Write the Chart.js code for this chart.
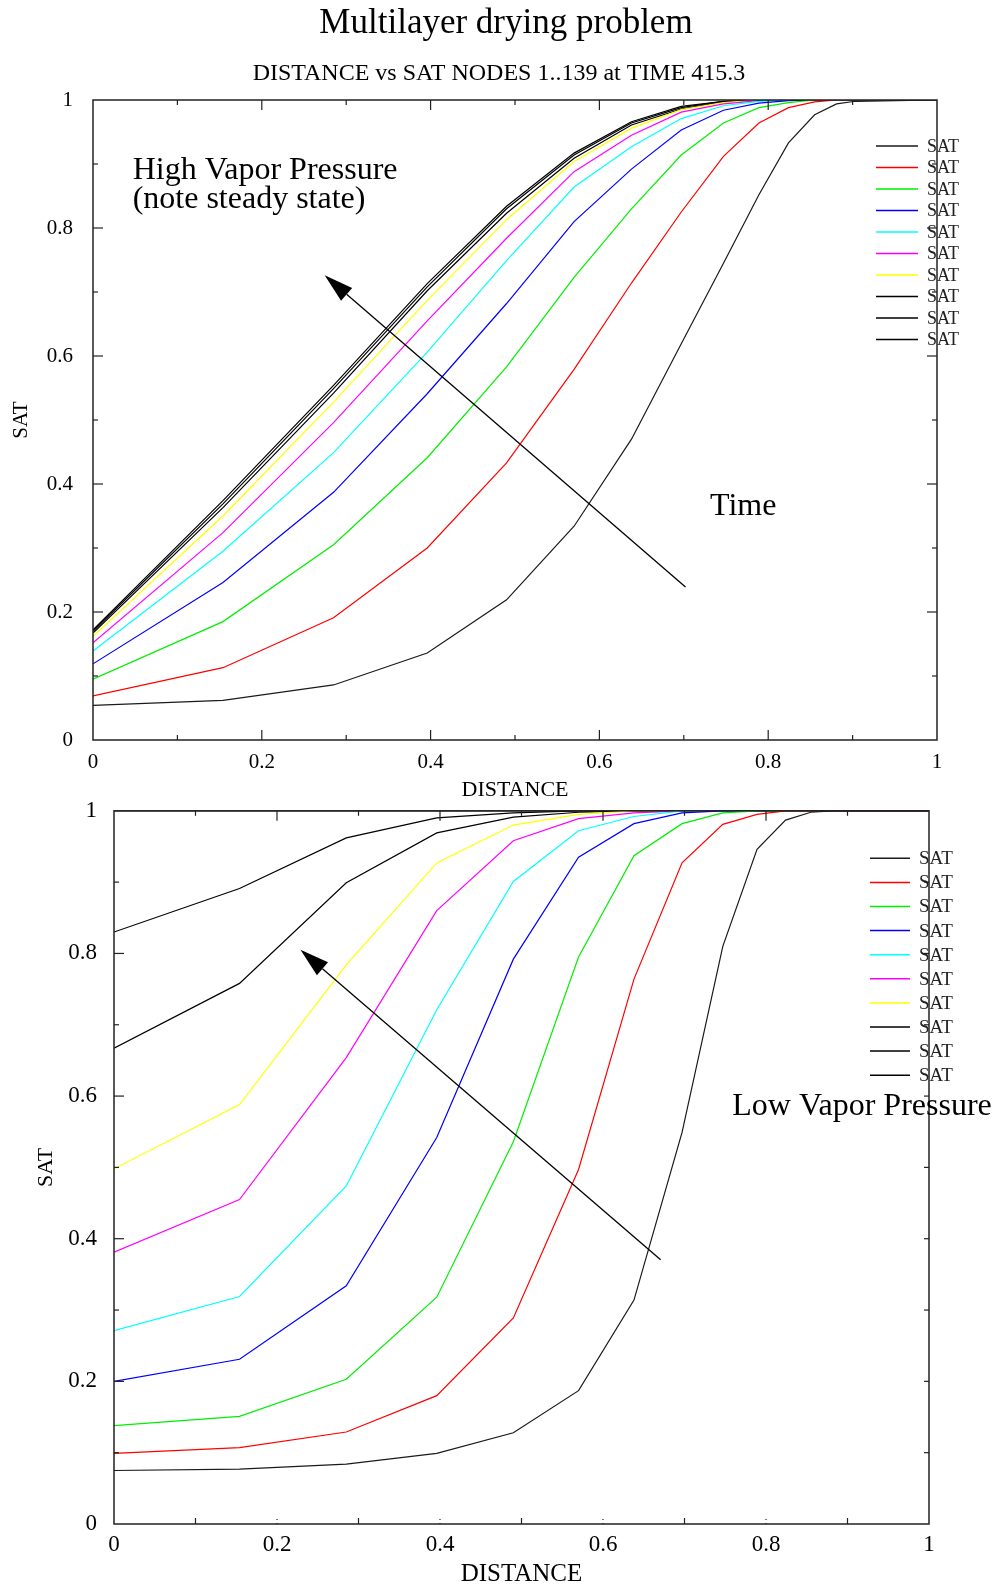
<!DOCTYPE html>
<html>
<head>
<meta charset="utf-8">
<title>Multilayer drying problem</title>
<script src="https://cdn.jsdelivr.net/npm/chart.js@4.4.1/dist/chart.umd.min.js"></script>
<style>
  html, body { margin: 0; padding: 0; background: #fff; }
  body { position: relative; width: 996px; height: 1587px; overflow: hidden; }
  canvas { position: absolute; left: 0; }
  #satHigh { top: 0; }
  #satLow { top: 780px; }
</style>
</head>
<body>
<canvas id="satHigh" width="996" height="810"></canvas>
<canvas id="satLow" width="996" height="807"></canvas>
<script>
'use strict';

const SERIF = "'Liberation Serif', 'Times New Roman', serif";

// node positions (DISTANCE) shared by every profile
const distance = [0, 0.154, 0.285, 0.396, 0.490, 0.570, 0.638, 0.697, 0.747, 0.789, 0.824, 0.855, 0.881, 0.903, 1.0];

// high vapor pressure run: SAT at each node, one profile per output time
const highSat1  = [0.054, 0.062, 0.086, 0.136, 0.219, 0.334, 0.470, 0.619, 0.745, 0.852, 0.933, 0.977, 0.994, 0.998, 1];
const highSat2  = [0.069, 0.113, 0.191, 0.300, 0.433, 0.579, 0.714, 0.825, 0.912, 0.964, 0.988, 0.997, 1, 1, 1];
const highSat3  = [0.095, 0.185, 0.305, 0.441, 0.583, 0.723, 0.830, 0.914, 0.964, 0.988, 0.996, 1, 1, 1, 1];
const highSat4  = [0.119, 0.246, 0.387, 0.541, 0.682, 0.810, 0.892, 0.953, 0.984, 0.995, 0.999, 1, 1, 1, 1];
const highSat5  = [0.139, 0.295, 0.449, 0.606, 0.749, 0.864, 0.927, 0.971, 0.991, 0.998, 1, 1, 1, 1, 1];
const highSat6  = [0.152, 0.324, 0.496, 0.655, 0.784, 0.888, 0.945, 0.981, 0.994, 0.999, 1, 1, 1, 1, 1];
const highSat7  = [0.162, 0.350, 0.528, 0.687, 0.813, 0.904, 0.956, 0.985, 0.996, 1, 1, 1, 1, 1, 1];
const highSat8  = [0.167, 0.363, 0.542, 0.702, 0.823, 0.909, 0.961, 0.986, 0.997, 1, 1, 1, 1, 1, 1];
const highSat9  = [0.170, 0.369, 0.549, 0.708, 0.830, 0.914, 0.964, 0.988, 0.998, 1, 1, 1, 1, 1, 1];
const highSat10 = [0.172, 0.374, 0.554, 0.713, 0.834, 0.917, 0.966, 0.990, 0.998, 1, 1, 1, 1, 1, 1];

// low vapor pressure run
const lowSat1  = [0.075, 0.077, 0.084, 0.099, 0.128, 0.187, 0.314, 0.549, 0.810, 0.946, 0.987, 0.998, 1, 1, 1];
const lowSat2  = [0.099, 0.107, 0.129, 0.180, 0.289, 0.497, 0.764, 0.927, 0.981, 0.995, 1, 1, 1, 1, 1];
const lowSat3  = [0.138, 0.151, 0.203, 0.318, 0.536, 0.795, 0.937, 0.982, 0.997, 1, 1, 1, 1, 1, 1];
const lowSat4  = [0.200, 0.231, 0.334, 0.542, 0.792, 0.935, 0.982, 0.997, 1, 1, 1, 1, 1, 1, 1];
const lowSat5  = [0.271, 0.319, 0.474, 0.721, 0.901, 0.972, 0.992, 1, 1, 1, 1, 1, 1, 1, 1];
const lowSat6  = [0.381, 0.455, 0.654, 0.860, 0.958, 0.989, 0.997, 1, 1, 1, 1, 1, 1, 1, 1];
const lowSat7  = [0.498, 0.588, 0.784, 0.927, 0.980, 0.995, 1, 1, 1, 1, 1, 1, 1, 1, 1];
const lowSat8  = [0.667, 0.758, 0.899, 0.969, 0.991, 0.998, 1, 1, 1, 1, 1, 1, 1, 1, 1];
const lowSat9  = [0.830, 0.891, 0.962, 0.990, 0.997, 1, 1, 1, 1, 1, 1, 1, 1, 1, 1];
const lowSat10 = [1, 1, 1, 1, 1, 1, 1, 1, 1, 1, 1, 1, 1, 1, 1];

const highRuns = [highSat1, highSat2, highSat3, highSat4, highSat5, highSat6, highSat7, highSat8, highSat9, highSat10];
const lowRuns = [lowSat1, lowSat2, lowSat3, lowSat4, lowSat5, lowSat6, lowSat7, lowSat8, lowSat9, lowSat10];
const seriesLabels = ['SAT', 'SAT', 'SAT', 'SAT', 'SAT', 'SAT', 'SAT', 'SAT', 'SAT', 'SAT'];
const seriesColors = ['#1a1a1a', '#ff0000', '#00ee00', '#0000ff', '#00ffff', '#ff00ff', '#ffff00', '#000000', '#000000', '#000000'];
const axisTicks = [0, 0.2, 0.4, 0.6, 0.8, 1];

const mainTitle = 'Multilayer drying problem';
const subTitle = 'DISTANCE vs SAT NODES 1..139 at TIME 415.3';

function buildDatasets(runs) {
  return runs.map((ys, i) => ({
    label: seriesLabels[i],
    data: distance.map((x, j) => ({ x, y: ys[j] })),
    borderColor: seriesColors[i],
    backgroundColor: seriesColors[i],
    borderWidth: 1.2,
    pointRadius: 0,
    tension: 0,
    fill: false,
  }));
}

// box round the plot with inward tick marks every 0.1
const framePlugin = {
  id: 'frame',
  afterDatasetsDraw(chart, args, opts) {
    const { ctx, chartArea: a, scales: { x, y } } = chart;
    ctx.save();
    ctx.strokeStyle = '#222';
    ctx.lineWidth = 1.5;
    ctx.strokeRect(a.left, a.top, a.right - a.left, a.bottom - a.top);
    ctx.lineWidth = 1.2;
    const mark = (x1, y1, x2, y2, dotted) => {
      ctx.setLineDash(dotted ? [1, 3] : []);
      ctx.beginPath(); ctx.moveTo(x1, y1); ctx.lineTo(x2, y2); ctx.stroke();
    };
    for (let i = 1; i < 10; i++) {
      const major = i % 2 === 0;
      const px = x.getPixelForValue(i / 10);
      const py = y.getPixelForValue(i / 10);
      const L = (side) => major ? side.major : side.minor;
      const dot = (side) => major && side.dotted;
      mark(px, a.top, px, a.top + L(opts.top), dot(opts.top));
      mark(px, a.bottom, px, a.bottom - L(opts.bottom), dot(opts.bottom));
      mark(a.left, py, a.left + L(opts.left), py, dot(opts.left));
      mark(a.right, py, a.right - L(opts.right), py, dot(opts.right));
    }
    ctx.restore();
  }
};

// stacked legend: short line sample then the series name
const keyPlugin = {
  id: 'key',
  afterDraw(chart, args, opts) {
    const { ctx } = chart;
    ctx.save();
    ctx.font = opts.size + 'px ' + SERIF;
    ctx.textBaseline = 'middle';
    ctx.textAlign = 'left';
    chart.data.datasets.forEach((ds, i) => {
      const yy = opts.y + i * opts.step;
      ctx.strokeStyle = ds.borderColor;
      ctx.lineWidth = 1.5;
      ctx.beginPath(); ctx.moveTo(opts.x, yy); ctx.lineTo(opts.x + opts.len, yy); ctx.stroke();
      ctx.fillStyle = '#222';
      ctx.fillText(ds.label, opts.textX, yy + 1);
    });
    ctx.restore();
  }
};

// free text and the time arrow, placed in data units
const notesPlugin = {
  id: 'notes',
  afterDraw(chart, args, opts) {
    const { ctx, scales: { x, y } } = chart;
    ctx.save();
    ctx.fillStyle = '#000';
    ctx.textBaseline = 'alphabetic';
    (opts.heads || []).forEach((h) => {
      ctx.font = h.size + 'px ' + SERIF;
      ctx.textAlign = 'center';
      ctx.fillText(h.text, h.x, h.y);
    });
    (opts.labels || []).forEach((t) => {
      ctx.font = opts.size + 'px ' + SERIF;
      ctx.textAlign = 'left';
      ctx.fillText(t.text, x.getPixelForValue(t.x), y.getPixelForValue(t.y));
    });
    if (opts.arrow) {
      const x0 = x.getPixelForValue(opts.arrow.from[0]), y0 = y.getPixelForValue(opts.arrow.from[1]);
      const x1 = x.getPixelForValue(opts.arrow.to[0]), y1 = y.getPixelForValue(opts.arrow.to[1]);
      const ang = Math.atan2(y1 - y0, x1 - x0);
      const hl = 29, hw = 8.5;
      const bx = x1 - hl * Math.cos(ang), by = y1 - hl * Math.sin(ang);
      ctx.strokeStyle = '#000';
      ctx.lineWidth = 1.3;
      ctx.beginPath(); ctx.moveTo(x0, y0); ctx.lineTo(bx, by); ctx.stroke();
      ctx.beginPath();
      ctx.moveTo(x1, y1);
      ctx.lineTo(bx + hw * Math.sin(ang), by - hw * Math.cos(ang));
      ctx.lineTo(bx - hw * Math.sin(ang), by + hw * Math.cos(ang));
      ctx.closePath();
      ctx.fill();
    }
    ctx.restore();
  }
};

function axis(o) {
  return {
    type: 'linear', min: 0, max: 1, position: o.position,
    afterBuildTicks: (s) => { s.ticks = axisTicks.map((v) => ({ value: v })); },
    afterFit: (s) => { if (o.width) s.width = o.width; if (o.height) s.height = o.height; },
    grid: { display: false, drawTicks: false },
    border: { display: false },
    ticks: {
      color: '#000', padding: o.pad,
      font: { family: SERIF, size: o.tickSize },
      callback: (v) => String(v),
    },
    title: {
      display: true, text: o.title, color: '#000',
      font: { family: SERIF, size: o.titleSize, lineHeight: 1 },
      padding: o.titlePad,
    },
  };
}

function makeChart(id, runs, cfg) {
  return new Chart(document.getElementById(id), {
    type: 'line',
    data: { datasets: buildDatasets(runs) },
    options: {
      responsive: false,
      animation: false,
      events: [],
      layout: { padding: cfg.padding },
      scales: { x: cfg.x, y: cfg.y },
      plugins: {
        legend: { display: false },
        tooltip: { enabled: false },
        frame: cfg.frame,
        key: cfg.key,
        notes: cfg.notes,
      },
    },
    plugins: [framePlugin, keyPlugin, notesPlugin],
  });
}

const longTicks = { major: 10, minor: 5 };

makeChart('satHigh', highRuns, {
  padding: { top: 100, right: 59, left: 0, bottom: 0 },
  x: axis({ position: 'bottom', height: 70, pad: 10, tickSize: 21, title: 'DISTANCE', titleSize: 22, titlePad: { top: 0, bottom: 8.5 } }),
  y: axis({ position: 'left', width: 93, pad: 20, tickSize: 21, title: 'SAT', titleSize: 21, titlePad: { top: 10.5, bottom: 0 } }),
  frame: { top: longTicks, bottom: longTicks, left: longTicks, right: longTicks },
  key: { x: 876, len: 42, textX: 927, y: 146, step: 21.5, size: 18 },
  notes: {
    size: 32,
    heads: [
      { text: mainTitle, x: 506, y: 33, size: 35 },
      { text: subTitle, x: 499, y: 80, size: 24 },
    ],
    labels: [
      { text: 'High Vapor Pressure', x: 0.047, y: 0.876 },
      { text: '(note steady state)', x: 0.047, y: 0.831 },
      { text: 'Time', x: 0.731, y: 0.352 },
    ],
    arrow: { from: [0.702, 0.239], to: [0.2745, 0.726] },
  },
});

makeChart('satLow', lowRuns, {
  padding: { top: 27, right: 67, left: 0, bottom: 0 },
  x: axis({ position: 'bottom', height: 63, pad: 7.5, tickSize: 23, title: 'DISTANCE', titleSize: 25, titlePad: { top: 0, bottom: 0 } }),
  y: axis({ position: 'left', width: 114, pad: 17, tickSize: 23, title: 'SAT', titleSize: 22, titlePad: { top: 35.5, bottom: 0 } }),
  frame: {
    top: longTicks, left: longTicks,
    right: { major: 5, minor: 5 },
    bottom: { major: 8, minor: 6, dotted: true },
  },
  key: { x: 870, len: 40, textX: 919, y: 78.3, step: 24.1, size: 19 },
  notes: {
    size: 32,
    labels: [{ text: 'Low Vapor Pressure', x: 0.7586, y: 0.5737 }],
    arrow: { from: [0.6707, 0.3706], to: [0.2288, 0.805] },
  },
});
</script>
</body>
</html>
